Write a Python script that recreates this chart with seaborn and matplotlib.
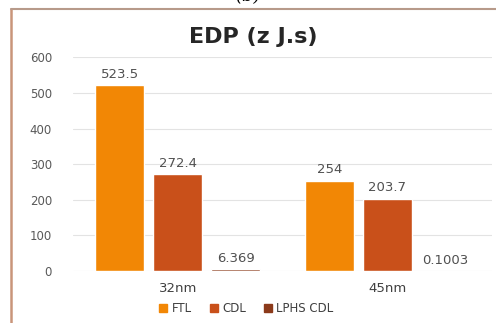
import matplotlib
matplotlib.use("Agg")
import matplotlib.pyplot as plt
from matplotlib.lines import Line2D
import seaborn as sns
import pandas as pd

# Energy-delay product per technology node and latch design
nodes = ["32nm", "45nm"]
designs = ["FTL", "CDL", "LPHS CDL"]
ftl = [523.5, 254]
cdl = [272.4, 203.7]
lphs_cdl = [6.369, 0.1003]
value_labels = {"FTL": ["523.5", "254"], "CDL": ["272.4", "203.7"],
                "LPHS CDL": ["6.369", "0.1003"]}
y_ticks = [0, 100, 200, 300, 400, 500, 600]

colors = ["#F28705", "#C9501A", "#8B3A1A"]

rows = []
for d, vals in zip(designs, [ftl, cdl, lphs_cdl]):
    for n, v in zip(nodes, vals):
        rows.append({"node": n, "design": d, "edp": v})
df = pd.DataFrame(rows)

sns.set_theme(style="white")
plt.rcParams["font.family"] = ["DejaVu Sans"]

fig = plt.figure(figsize=(4.96, 3.23), dpi=100)
fig.patch.set_facecolor("white")
ax = fig.add_axes([0.147, 0.161, 0.845, 0.661])

sns.barplot(data=df, x="node", y="edp", hue="design", order=nodes,
            hue_order=designs, palette=colors, width=0.83, gap=0.16,
            saturation=1, legend=False, ax=ax)

for cont, d in zip(ax.containers, designs):
    ax.bar_label(cont, labels=value_labels[d], padding=3, fontsize=9.5,
                 color="#505050")

ax.set_ylim(0, 600)
ax.set_xlim(-0.5, 1.5)
ax.set_yticks(y_ticks)
ax.set_yticklabels([str(t) for t in y_ticks])
ax.yaxis.grid(True, color="#E3E3E3", linewidth=0.8)
ax.set_axisbelow(True)
for s in ax.spines.values():
    s.set_visible(False)
ax.tick_params(axis="y", length=0, pad=15, labelsize=8.5, labelcolor="#595959")
ax.tick_params(axis="x", length=0, pad=8, labelsize=9.5, labelcolor="#404040")
ax.set_xlabel("")
ax.set_ylabel("")

fig.text(0.51, 0.885, "EDP (z J.s)", ha="center", va="center",
         fontsize=16, fontweight="bold", color="#262626")

handles = [Line2D([0], [0], marker="s", linestyle="none", markersize=5.5,
                  markerfacecolor=c, markeredgecolor=c) for c in colors]
fig.legend(handles, designs, loc="center", bbox_to_anchor=(0.495, 0.046),
           ncol=3, frameon=False, fontsize=8.5, handletextpad=0.25,
           columnspacing=1.3, handlelength=1.0, labelcolor="#404040")

# outer frame of the chart panel
fig.add_artist(Line2D([0.022, 0.022], [0.0, 0.972], transform=fig.transFigure,
                      color="#C9957A", linewidth=1.8))
fig.add_artist(Line2D([0.022, 1.0], [0.972, 0.972], transform=fig.transFigure,
                      color="#B79A8A", linewidth=1.5))

fig.text(0.5, 1.012, "(b)", ha="center", va="center", fontsize=13,
         family="DejaVu Serif", style="italic", color="black")

fig.savefig("out.png", dpi=100)
